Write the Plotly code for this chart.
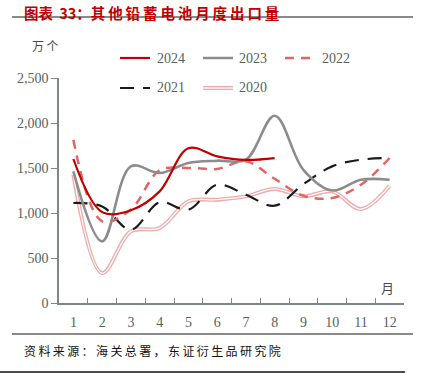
import plotly.graph_objects as go

months = ["1", "2", "3", "4", "5", "6", "7", "8", "9", "10", "11", "12"]
v2024 = [1600, 1010, 1030, 1240, 1720, 1630, 1590, 1610]
v2023 = [1462, 685, 1518, 1444, 1555, 1581, 1592, 2081, 1480, 1250, 1370, 1370]
v2022 = [1815, 907, 1040, 1474, 1500, 1490, 1574, 1380, 1192, 1167, 1314, 1611]
v2021 = [1111, 1073, 814, 1120, 1037, 1314, 1203, 1081, 1320, 1518, 1592, 1611]
v2020 = [1425, 333, 796, 833, 1129, 1148, 1185, 1267, 1185, 1240, 1044, 1303]
y_ticks = [0, 500, 1000, 1500, 2000, 2500]

W, H = 422, 373
L, R, T, B = 59, 18, 78, 70
PW, PH = W - L - R, H - T - B

def px(x):
    return (x - L) / PW

def py(y):
    return (H - B - y) / PH

C2024 = "#c00000"
C2023 = "#8c8c8c"
C2022 = "#e46464"
C2021 = "#1a1a1a"
C2020 = "#eeaaaa"
TXT = "#56625f"
AX = "#7f8785"

fig = go.Figure()
fig.add_trace(go.Scatter(x=months, y=v2020, mode="lines", line=dict(color=C2020, width=4, shape="spline"), hoverinfo="skip"))
fig.add_trace(go.Scatter(x=months, y=v2020, mode="lines", line=dict(color="white", width=1.3, shape="spline"), name="2020"))
fig.add_trace(go.Scatter(x=months, y=v2021, mode="lines", line=dict(color=C2021, width=2.2, shape="spline", dash="14px,9px"), name="2021"))
fig.add_trace(go.Scatter(x=months, y=v2022, mode="lines", line=dict(color=C2022, width=2.5, shape="spline", dash="9px,7px"), name="2022"))
fig.add_trace(go.Scatter(x=months, y=v2023, mode="lines", line=dict(color=C2023, width=2.6, shape="spline"), name="2023"))
fig.add_trace(go.Scatter(x=months[:len(v2024)], y=v2024, mode="lines", line=dict(color=C2024, width=2.2, shape="spline"), name="2024"))

shapes = []
annotations = []

# title & frame lines
shapes.append(dict(type="line", xref="paper", yref="paper", x0=px(12), x1=px(413), y0=py(17), y1=py(17), line=dict(color="#8a8a8a", width=2)))
shapes.append(dict(type="line", xref="paper", yref="paper", x0=px(12), x1=px(413), y0=py(334), y1=py(334), line=dict(color="#8a8a8a", width=2)))
shapes.append(dict(type="line", xref="paper", yref="paper", x0=px(0), x1=px(405), y0=py(372), y1=py(372), line=dict(color="#111111", width=1.5)))

ts = "\u2009"
title = "图表" + ts + " 33：" + ts.join("其他铅蓄电池月度出口量")
annotations.append(dict(xref="paper", yref="paper", x=px(22), y=py(0), xanchor="left", yanchor="top", showarrow=False,
                        text="<b>" + title + "</b>", font=dict(family="Noto Sans CJK SC", size=14.5, color="#c00000")))
source = ts.join("资料来源：海关总署，东证衍生品研究院")
annotations.append(dict(xref="paper", yref="paper", x=px(22), y=py(350), xanchor="left", yanchor="middle", showarrow=False,
                        text=source, font=dict(family="Noto Sans CJK SC", size=12, color="#111111")))
annotations.append(dict(xref="paper", yref="paper", x=px(45), y=py(46), xanchor="center", yanchor="middle", showarrow=False,
                        text="万" + ts + "个", font=dict(family="Noto Sans CJK SC", size=12, color="#4a4a4a")))
annotations.append(dict(xref="paper", yref="paper", x=px(387), y=py(287), xanchor="center", yanchor="middle", showarrow=False,
                        text="月", font=dict(family="Noto Sans CJK SC", size=13, color="#4a4a4a")))

# legend (manual)
legend_items = [
    ("2024", C2024, None, 120, 150, 155, 58),
    ("2023", C2023, None, 203, 233, 237, 58),
    ("2022", C2022, "dash", 285, 311, 320, 58),
    ("2021", C2021, "longdash", 120, 150, 155, 88),
    ("2020", C2020, "double", 203, 233, 237, 88),
]
for name, col, style, xa, xb, xt, yy in legend_items:
    if style == "double":
        shapes.append(dict(type="line", xref="paper", yref="paper", x0=px(xa), x1=px(xb), y0=py(yy), y1=py(yy), line=dict(color=col, width=4)))
        shapes.append(dict(type="line", xref="paper", yref="paper", x0=px(xa), x1=px(xb), y0=py(yy), y1=py(yy), line=dict(color="white", width=1.3)))
    else:
        d = {"dash": "9px,7px", "longdash": "14px,9px"}.get(style, "solid")
        w = 2.5 if col in (C2023, C2022) else 2.2
        shapes.append(dict(type="line", xref="paper", yref="paper", x0=px(xa), x1=px(xb), y0=py(yy), y1=py(yy), line=dict(color=col, width=w, dash=d)))
    annotations.append(dict(xref="paper", yref="paper", x=px(xt), y=py(yy), xanchor="left", yanchor="middle", showarrow=False,
                            text=name, font=dict(family="Liberation Serif", size=14, color=TXT)))

fig.update_layout(
    width=W, height=H,
    margin=dict(l=L, r=R, t=T, b=B, pad=0),
    paper_bgcolor="white", plot_bgcolor="white",
    showlegend=False, hovermode=False,
    shapes=shapes, annotations=annotations,
    xaxis=dict(type="category", categoryorder="array", categoryarray=months, range=[-0.5, 11.5],
               showline=True, linecolor=AX, linewidth=1.5, ticks="inside", ticklen=5, tickwidth=1.2, tickcolor=AX,
               tickson="boundaries", showgrid=False, zeroline=False, ticklabelstandoff=5,
               tickfont=dict(family="Liberation Serif", size=14, color=TXT)),
    yaxis=dict(range=[0, 2500], tickvals=y_ticks, tickformat=",", showline=True, linecolor=AX, linewidth=1.5,
               ticks="outside", ticklen=6, tickwidth=1.2, tickcolor=AX, showgrid=False, zeroline=False,
               tickfont=dict(family="Liberation Serif", size=14, color=TXT)),
)

fig.write_html("out.html", config={"displayModeBar": False},
               post_script="document.body.style.margin='0';document.body.style.overflow='hidden';")
